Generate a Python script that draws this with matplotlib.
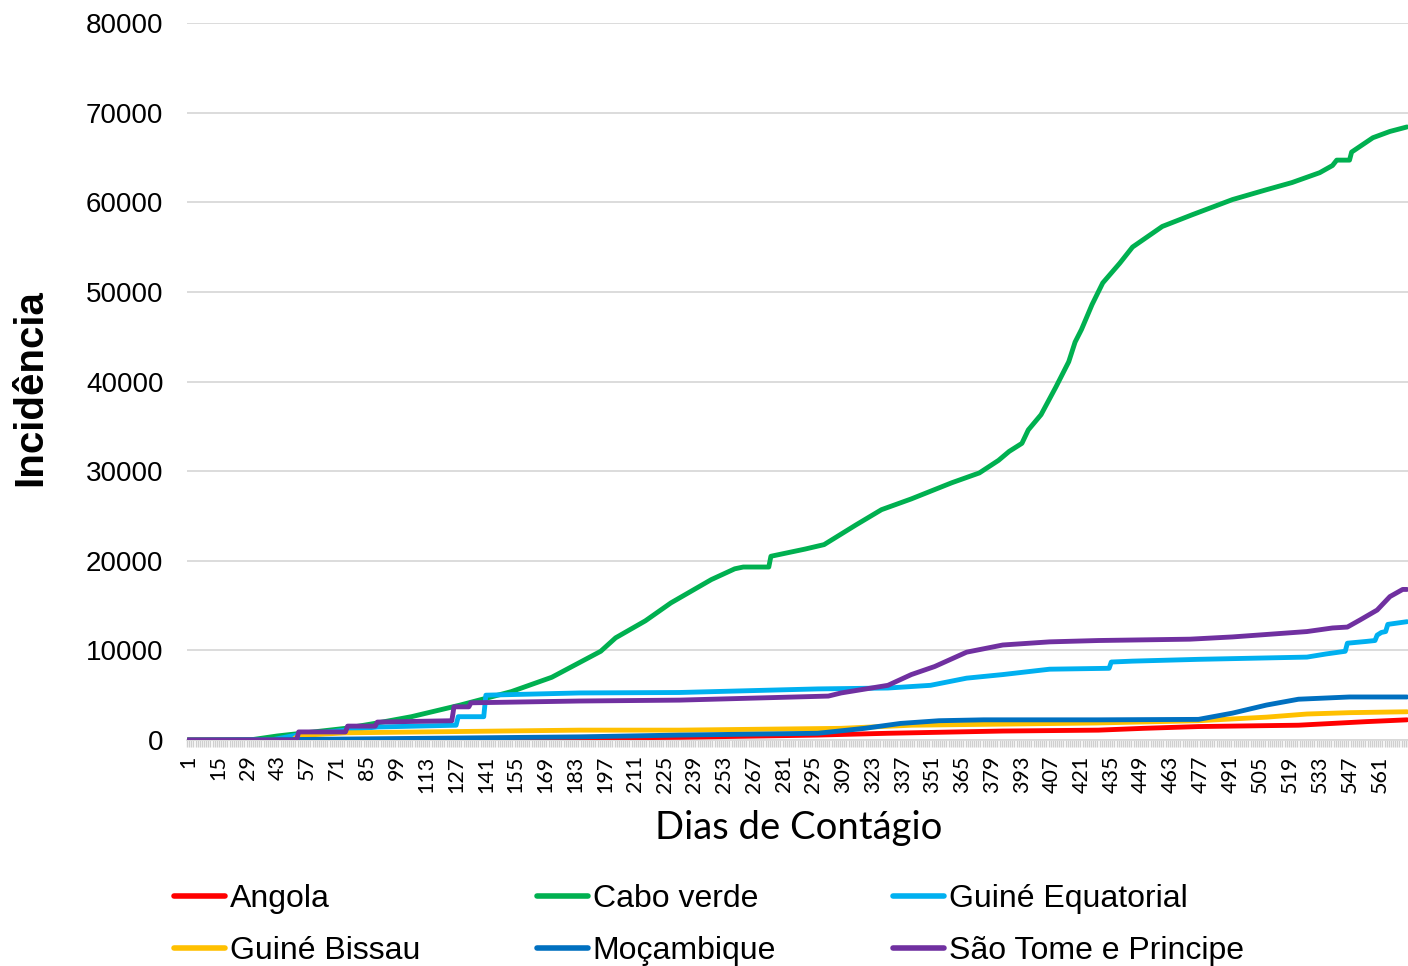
import matplotlib
matplotlib.use("Agg")
import matplotlib.pyplot as plt
import numpy as np

# dados (dia, incidencia acumulada)
angola_dias = [1, 100, 232, 297, 330, 384, 429, 450, 476, 523, 555, 574]
angola_val = [0, 0, 300, 550, 750, 1000, 1100, 1300, 1500, 1650, 2050, 2250]

cabo_dias = [1, 30, 43, 60, 75, 90, 106, 129, 153, 172, 195, 202, 216, 228, 247, 258,
             262, 274, 275, 291, 300, 315, 327, 341, 360, 373, 382, 387, 393, 396, 402,
             409, 415, 418, 421, 426, 431, 439, 445, 459, 473, 492, 508, 520, 533, 539,
             541, 547, 548, 558, 566, 574]
cabo_val = [0, 0, 450, 900, 1300, 1900, 2600, 3900, 5400, 7000, 9900, 11400, 13300, 15300,
            17900, 19100, 19300, 19300, 20500, 21300, 21800, 24000, 25700, 26900, 28700,
            29800, 31200, 32200, 33100, 34600, 36300, 39400, 42200, 44400, 45800, 48600,
            51000, 53200, 55000, 57300, 58600, 60300, 61400, 62200, 63300, 64100, 64700,
            64700, 65600, 67200, 67900, 68400]

geq_dias = [1, 40, 52, 75, 90, 127, 128, 140, 141, 185, 232, 297, 330, 350, 367, 384, 406,
            434, 435, 445, 476, 527, 536, 545, 546, 555, 559, 560, 562, 564, 565, 574]
geq_val = [0, 0, 550, 1100, 1450, 1650, 2600, 2600, 5000, 5250, 5300, 5700, 5800, 6100,
           6900, 7300, 7900, 8000, 8700, 8800, 9000, 9250, 9600, 9900, 10800, 11000, 11100,
           11700, 12000, 12100, 12900, 13200]

gbi_dias = [1, 50, 53, 75, 185, 232, 308, 341, 428, 476, 508, 527, 547, 574]
gbi_val = [0, 0, 500, 800, 1100, 1100, 1300, 1650, 1900, 2150, 2550, 2900, 3050, 3150]

moc_dias = [1, 50, 185, 232, 297, 319, 336, 354, 375, 429, 476, 492, 508, 523, 547, 574]
moc_val = [0, 50, 350, 550, 750, 1300, 1850, 2150, 2250, 2250, 2300, 3000, 3900, 4550,
           4800, 4800]

stp_dias = [1, 52, 53, 75, 76, 89, 90, 125, 126, 133, 134, 185, 232, 302, 308, 330, 341,
            352, 367, 384, 406, 429, 472, 492, 527, 539, 546, 552, 560, 566, 572, 574]
stp_val = [0, 0, 900, 900, 1550, 1550, 2000, 2150, 3700, 3700, 4150, 4350, 4450, 4900,
           5250, 6100, 7300, 8200, 9800, 10600, 10950, 11100, 11250, 11500, 12100, 12500,
           12600, 13400, 14500, 16000, 16800, 16800]

n_dias = 574
tick_dias = list(range(1, 562, 14))

series = [
    ("Angola", angola_dias, angola_val, "#FF0000"),
    ("Cabo verde", cabo_dias, cabo_val, "#00B050"),
    ("Guiné Equatorial", geq_dias, geq_val, "#00B0F0"),
    ("Guiné Bissau", gbi_dias, gbi_val, "#FFC000"),
    ("Moçambique", moc_dias, moc_val, "#0070C0"),
    ("São Tome e Principe", stp_dias, stp_val, "#7030A0"),
]

fig = plt.figure(figsize=(14.08, 9.66), dpi=100)
ax = fig.add_axes([187 / 1408, 1 - 740 / 966, 1 - 187 / 1408, (740 - 23) / 966])

linhas = {}
for i, (nome, d, v, cor) in enumerate(series):
    l, = ax.plot(d, v, color=cor, lw=3.5, label=nome, zorder=3 + i,
                 solid_joinstyle="round", solid_capstyle="round")
    linhas[nome] = l

ax.set_xlim(0.5, n_dias + 0.5)
ax.set_ylim(0, 80000)
ax.set_yticks(range(0, 80001, 10000))
ax.grid(axis="y", color="#d9d9d9", lw=1.3, zorder=0)
ax.set_axisbelow(True)
for s in ["top", "right", "left"]:
    ax.spines[s].set_visible(False)
ax.spines["bottom"].set_color("#d9d9d9")
ax.spines["bottom"].set_linewidth(1.3)
ax.spines["bottom"].set_zorder(1)

ax.set_xticks(tick_dias)
ax.set_xticklabels([str(t) for t in tick_dias], rotation=90, family="Lato", fontsize=15.5)
ax.set_xticks(np.arange(0.5, n_dias + 1, 1), minor=True)
ax.tick_params(axis="x", which="major", length=0, pad=11)
ax.tick_params(axis="x", which="minor", length=5, width=1.0, color="#cfcfcf")
ax.tick_params(axis="y", length=0, pad=17)
for t in ax.get_yticklabels():
    t.set_family("Liberation Sans")
    t.set_fontsize(20)

fig.text(30 / 1408, 1 - 388 / 966, "Incidência", rotation=90, family="Liberation Sans",
         fontweight="bold", fontsize=29, ha="center", va="center")
fig.text(799 / 1408, 1 - 828 / 966, "Dias de Contágio", family="Lato", fontsize=27.5,
         ha="center", va="center")

ordem = ["Angola", "Guiné Bissau", "Cabo verde", "Moçambique", "Guiné Equatorial",
         "São Tome e Principe"]
leg = fig.legend([linhas[n] for n in ordem], ordem, ncol=3, loc="center left",
                 bbox_to_anchor=(158 / 1408, 1 - 925 / 966), frameon=False,
                 prop={"family": "Liberation Sans", "size": 23}, handlelength=1.6,
                 handletextpad=0.15, columnspacing=3.65, labelspacing=0.68, borderpad=0)
for l in leg.get_lines():
    l.set_linewidth(4)

fig.savefig("out.png", dpi=100)
